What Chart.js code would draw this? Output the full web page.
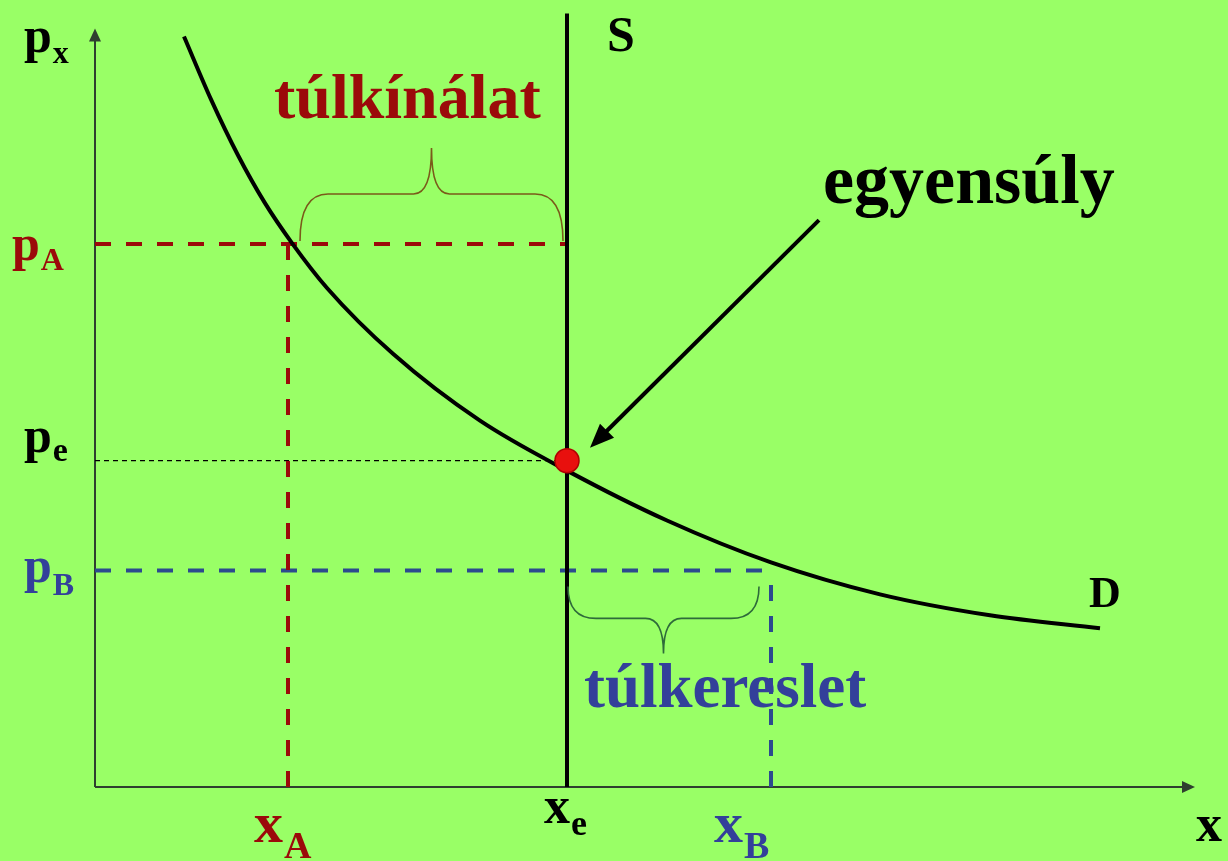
<!DOCTYPE html>
<html>
<head>
<meta charset="utf-8">
<script src="https://cdn.jsdelivr.net/npm/chart.js@4"></script>
<style>
  html, body { margin: 0; padding: 0; background: #99FF66; }
  canvas { display: block; }
</style>
</head>
<body>
<canvas id="market-chart" width="1228" height="861"></canvas>
<script>
// Demand curve (quantity, price)
const demandQty   = [8.9, 11.6, 14.3, 17.0, 19.7, 23.2, 29.8, 38.5, 47.2, 57.2, 67.6, 78.5, 89.5, 100.5];
const demandPrice = [75.2, 68.9, 63.3, 58.5, 54.5, 50.0, 43.4, 36.7, 31.7, 26.7, 22.5, 19.3, 17.2, 15.9];

// Key quantities and prices
const qtyA = 19.3, qtyE = 47.2, qtyB = 67.6;
const priceA = 54.4, priceE = 32.7, priceB = 21.7;
const supplyTop = 77.5;

// Axis extents and the "egyensúly" arrow
const axisTopY = 75.6, axisEndX = 109.5;
const arrowFrom = [72.4, 56.8];
const arrowTo = [49.5, 34.0];

const RED = '#9B0A0A';
const BLUE = '#33409A';

function pts(xs, ys) {
  return xs.map(function (x, i) { return { x: x, y: ys[i] }; });
}

function lineSet(data, color, width, dash, order) {
  return {
    data: data,
    showLine: true,
    borderColor: color,
    borderWidth: width,
    borderDash: dash || [],
    pointRadius: 0,
    fill: false,
    clip: false,
    order: order
  };
}

// shaft of the arrow stops a bit before the tip, the head is drawn by the plugin
const shaftEnd = [arrowTo[0] + (arrowFrom[0] - arrowTo[0]) * 0.05, arrowTo[1] + (arrowFrom[1] - arrowTo[1]) * 0.05];

const datasets = [
  Object.assign(lineSet([{ x: qtyE, y: priceE }], '#B00000', 1, null, 0), {
    showLine: false, pointRadius: 12, pointBackgroundColor: '#E8100E', pointBorderColor: '#B00000', pointBorderWidth: 1.5
  }),
  lineSet(pts(demandQty, demandPrice), '#000000', 4, null, 1),
  lineSet([{ x: qtyE, y: 0 }, { x: qtyE, y: supplyTop }], '#000000', 4, null, 1),
  lineSet([{ x: arrowFrom[0], y: arrowFrom[1] }, { x: shaftEnd[0], y: shaftEnd[1] }], '#000000', 4, null, 1),
  lineSet([{ x: 0, y: priceA }, { x: qtyE, y: priceA }], RED, 4, [16, 15], 2),
  lineSet([{ x: qtyA, y: 0 }, { x: qtyA, y: priceA }], RED, 4, [16, 15], 2),
  lineSet([{ x: 0, y: priceB }, { x: qtyB, y: priceB }], '#2C4A8E', 4, [16, 15], 2),
  lineSet([{ x: qtyB, y: 0 }, { x: qtyB, y: priceB }], '#2C4A8E', 4, [16, 15], 2),
  lineSet([{ x: 0, y: priceE }, { x: qtyE, y: priceE }], '#000000', 1.2, [5, 4], 2),
  lineSet([{ x: 0, y: 0 }, { x: 0, y: axisTopY }], '#2F3F2F', 2, null, 3),
  lineSet([{ x: 0, y: 0 }, { x: axisEndX, y: 0 }], '#2F3F2F', 2, null, 3)
];
datasets[1].cubicInterpolationMode = 'monotone';

function arrowHead(ctx, x1, y1, x2, y2, len, half, color) {
  var a = Math.atan2(y2 - y1, x2 - x1);
  ctx.save();
  ctx.fillStyle = color;
  ctx.beginPath();
  ctx.moveTo(x2, y2);
  ctx.lineTo(x2 - len * Math.cos(a) + half * Math.sin(a), y2 - len * Math.sin(a) - half * Math.cos(a));
  ctx.lineTo(x2 - len * Math.cos(a) - half * Math.sin(a), y2 - len * Math.sin(a) + half * Math.cos(a));
  ctx.closePath();
  ctx.fill();
  ctx.restore();
}

// curly brace between x1 and x2: ends at yEnd, straight part at yFlat, tip at yTip
function brace(ctx, x1, x2, yEnd, yFlat, yTip, color) {
  var xm = (x1 + x2) / 2;
  ctx.save();
  ctx.strokeStyle = color;
  ctx.lineWidth = 1.6;
  ctx.beginPath();
  ctx.moveTo(x1, yEnd);
  ctx.quadraticCurveTo(x1, yFlat, x1 + 28, yFlat);
  ctx.lineTo(xm - 18, yFlat);
  ctx.quadraticCurveTo(xm, yFlat, xm, yTip);
  ctx.quadraticCurveTo(xm, yFlat, xm + 18, yFlat);
  ctx.lineTo(x2 - 28, yFlat);
  ctx.quadraticCurveTo(x2, yFlat, x2, yEnd);
  ctx.stroke();
  ctx.restore();
}

function label(ctx, main, sub, x, y, size, subSize, subY, color) {
  ctx.save();
  ctx.fillStyle = color;
  ctx.textAlign = 'left';
  ctx.textBaseline = 'alphabetic';
  ctx.font = 'bold ' + size + 'px "Liberation Serif"';
  ctx.fillText(main, x, y);
  var w = ctx.measureText(main).width;
  if (sub) {
    ctx.font = 'bold ' + subSize + 'px "Liberation Serif"';
    ctx.fillText(sub, x + w + 1, subY);
  }
  ctx.restore();
}

const annotations = {
  id: 'annotations',
  afterDatasetsDraw: function (chart) {
    var ctx = chart.ctx;
    var sx = chart.scales.x, sy = chart.scales.y;
    var X = function (v) { return sx.getPixelForValue(v); };
    var Y = function (v) { return sy.getPixelForValue(v); };

    // axis arrow heads
    arrowHead(ctx, X(0), Y(0), X(0), Y(axisTopY) - 4, 13, 6, '#2F3F2F');
    arrowHead(ctx, X(0), Y(0), X(axisEndX) + 5, Y(0), 13, 6, '#2F3F2F');
    // egyensúly arrow head
    arrowHead(ctx, X(arrowFrom[0]), Y(arrowFrom[1]), X(arrowTo[0]), Y(arrowTo[1]), 24, 10, '#000000');

    // braces
    brace(ctx, X(qtyA) + 12, X(qtyE) - 4, Y(priceA) - 3, Y(priceA) - 50, Y(priceA) - 96, '#7A5A1A');
    brace(ctx, X(qtyE) + 1, X(qtyB) - 12, Y(priceB) + 16, Y(priceB) + 48, Y(priceB) + 83, '#2E6B3A');

    // texts
    label(ctx, 'túlkínálat', null, 274, 118, 64, 0, 0, RED);
    label(ctx, 'túlkereslet', null, 584, 707, 63, 0, 0, BLUE);
    label(ctx, 'egyensúly', null, 823, 203, 70, 0, 0, '#000000');
    label(ctx, 'S', null, X(qtyE) + 40, 51, 50, 0, 0, '#000000');
    label(ctx, 'D', null, 1089, 607, 44, 0, 0, '#000000');

    label(ctx, 'p', 'x', 24, 52, 50, 32, 63, '#000000');
    label(ctx, 'p', 'A', 12, Y(priceA) + 16, 50, 32, Y(priceA) + 26, RED);
    label(ctx, 'p', 'e', 24, Y(priceE) - 9, 50, 34, Y(priceE), '#000000');
    label(ctx, 'p', 'B', 24, Y(priceB) + 12, 50, 32, Y(priceB) + 25, BLUE);

    label(ctx, 'x', 'A', X(qtyA) - 34, 842, 58, 38, 858, RED);
    label(ctx, 'x', 'e', X(qtyE) - 23, 823, 52, 36, 835, '#000000');
    label(ctx, 'x', 'B', X(qtyB) - 57, 842, 58, 38, 858, BLUE);
    label(ctx, 'x', null, 1196, 841, 52, 0, 0, '#000000');
  }
};

var ctx = document.getElementById('market-chart').getContext('2d');
var myChart = new Chart(ctx, {
  type: 'scatter',
  data: { datasets: datasets },
  options: {
    responsive: false,
    animation: false,
    layout: { padding: { left: 95, right: 23, top: 12, bottom: 74 } },
    plugins: { legend: { display: false }, tooltip: { enabled: false } },
    scales: {
      x: { type: 'linear', min: 0, max: 111, display: false },
      y: { type: 'linear', min: 0, max: 77.5, display: false }
    }
  },
  plugins: [annotations]
});
</script>
</body>
</html>
